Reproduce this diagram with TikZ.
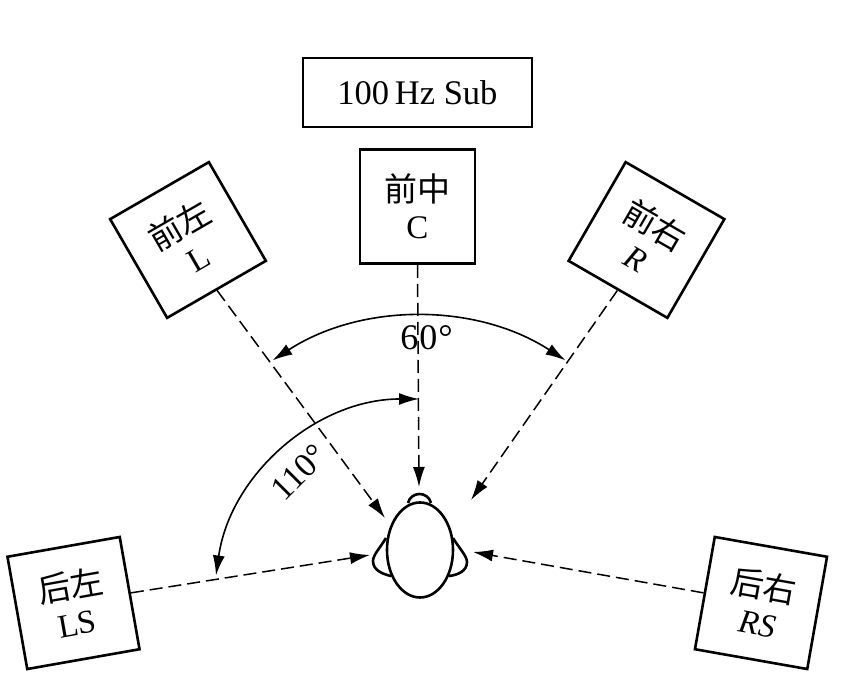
\documentclass[tikz,border=0pt]{standalone}
\usepackage{fontspec}
\setmainfont{Liberation Serif}
\newfontfamily\cjk{Noto Sans CJK SC}
\usetikzlibrary{arrows.meta,shapes.geometric}
\tikzset{
  spk/.style={draw,line width=2.6pt,minimum width=114pt,minimum height=114pt,inner sep=0pt,align=center,font=\fontsize{33}{37}\selectfont},
  subbox/.style={draw,line width=2.6pt,minimum width=229pt,minimum height=69pt,inner sep=0pt,font=\fontsize{34.5}{38}\selectfont},
  ray/.style={line width=1.5pt,dash pattern=on 13pt off 6pt,-{Latex[length=20pt,width=12pt]}},
  sweep/.style={line width=1.6pt,{Latex[length=20pt,width=12pt]}-{Latex[length=20pt,width=12pt]}},
  headline/.style={line width=2.6pt},
  lab/.style={font=\fontsize{36}{40}\selectfont,inner sep=0pt}
}
\begin{document}
\begin{tikzpicture}[x=1pt,y=1pt]
\useasboundingbox (0,0) rectangle (846,690);
\node[subbox] (sub) at (417.5,597.5) {100\,Hz Sub};
\node[spk,minimum width=115pt] (C) at (417.5,483.5) {{\cjk 前中}\\C};
\node[spk,rotate=30] (L) at (188,450) {{\cjk 前左}\\L};
\node[spk,rotate=-30] (R) at (646.5,450) {{\cjk 前右}\\\textit{R}};
\node[spk,rotate=10] (LS) at (73.5,87) {{\cjk 后左}\\LS};
\node[spk,rotate=-10] (RS) at (761,87) {{\cjk 后右}\\\textit{RS}};
% head
\draw[headline] (408,187) .. controls (411,199) and (428,199) .. (431,187);
\draw[headline] (386,152) .. controls (380,142) and (373,135) .. (373,129) .. controls (373,120) and (382,116) .. (391,114);
\draw[headline] (453,152) .. controls (459,142) and (467,134) .. (467,128) .. controls (467,119) and (458,115) .. (449,114);
\node[draw,headline,fill=white,ellipse,minimum width=66pt,minimum height=95pt,inner sep=0pt] (head) at (420,140) {};
% ray targets
\coordinate (tL) at (385,172);
\coordinate (tC) at (419,203);
\coordinate (tR) at (471,190);
\coordinate (tLS) at (370,135);
\coordinate (tRS) at (473,138);
\draw[ray] (L.south) -- (tL);
\draw[ray] (C.south) -- (tC);
\draw[ray] (R.south) -- (tR);
\draw[ray] (LS.east) -- (tLS);
\draw[ray] (RS.west) -- (tRS);
% sweeps
\coordinate (c60) at (419,104);
\coordinate (c110) at (419,86);
\draw[sweep] ([shift={(57:269pt)}]c60) arc (57:123:269pt);
\draw[sweep] ([shift={(90:205pt)}]c110) arc (90:172:205pt);
\node[lab] (a60) at (426.5,352) {6\kern1pt 0\kern1pt °};
\node[lab,rotate=45,font=\fontsize{34}{38}\selectfont] (a110) at (299,218) {110°};
\end{tikzpicture}
\end{document}
